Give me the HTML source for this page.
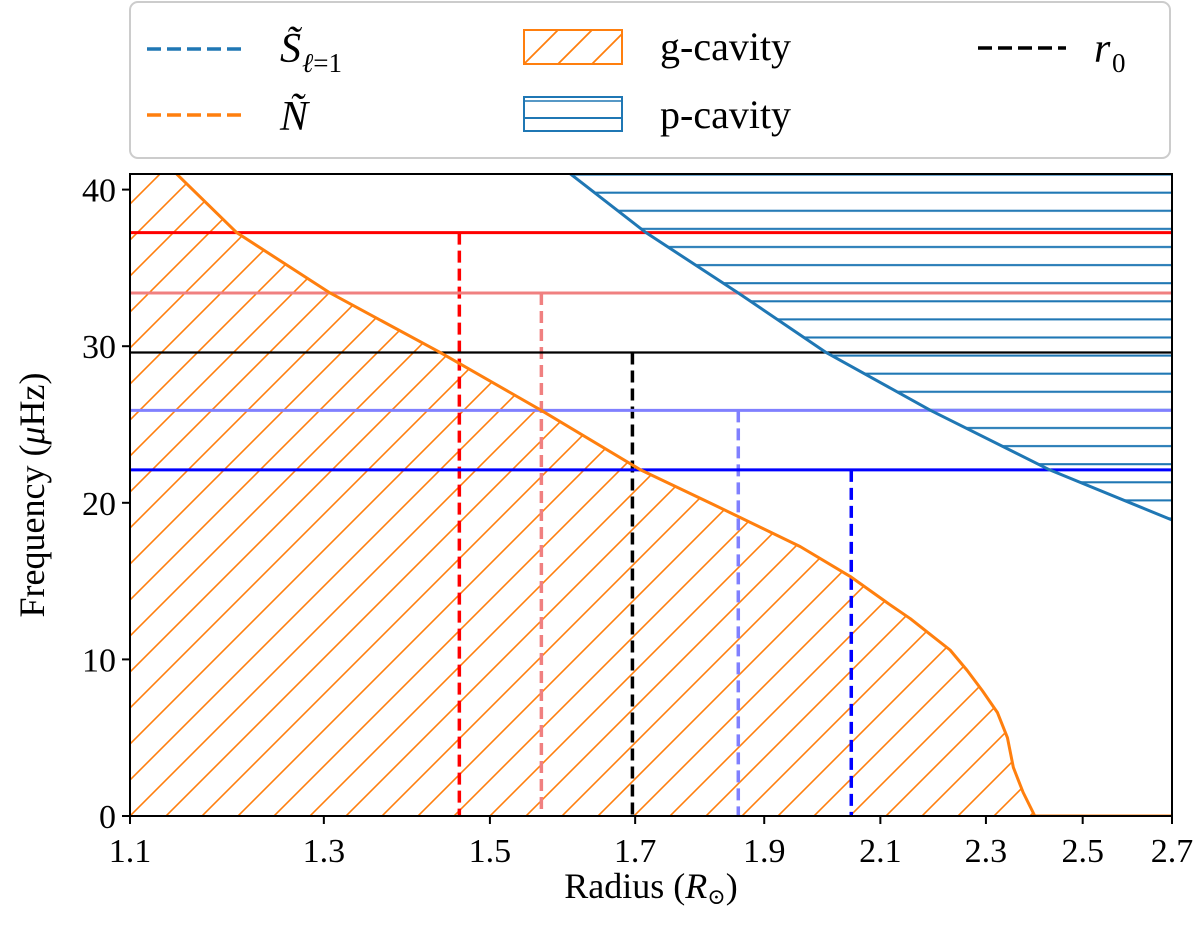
<!DOCTYPE html>
<html><head><meta charset="utf-8">
<style>
html,body{margin:0;padding:0;background:#fff;}
svg text{font-family:"Liberation Serif","DejaVu Serif",serif;fill:#000;}
</style></head>
<body>
<svg id="chart" xmlns="http://www.w3.org/2000/svg" width="1200" height="940" viewBox="0 0 1200 940">
<defs>
  <clipPath id="plotclip"><rect x="130" y="174" width="1042" height="642"/></clipPath>
  <pattern id="ghatch" patternUnits="userSpaceOnUse" width="36" height="36" x="130" y="816">
    <path d="M-9,9 L9,-9 M0,36 L36,0 M27,45 L45,27" stroke="#ff7f0e" stroke-width="1.6"/>
  </pattern>
  <pattern id="phatch" patternUnits="userSpaceOnUse" width="40" height="18.1" x="0" y="183.7">
    <path d="M0,9 L40,9" stroke="#1f77b4" stroke-width="2"/>
  </pattern>
  <pattern id="ghatchL" patternUnits="userSpaceOnUse" width="34" height="34" x="524" y="64">
    <path d="M-8,8 L8,-8 M0,34 L34,0 M26,42 L42,26" stroke="#ff7f0e" stroke-width="1.8"/>
  </pattern>
</defs>

<!-- legend -->
<g>
  <rect x="130" y="2" width="1040" height="156" rx="8" fill="#fff" stroke="#ccc" stroke-width="2"/>
  <g>
    <line x1="147" y1="49" x2="245" y2="49" stroke="#1f77b4" stroke-width="3.5" stroke-dasharray="14,6"/>
    <text x="280" y="62" font-size="42" font-style="italic">S̃</text>
    <text x="302" y="72" font-size="27"><tspan font-style="italic">ℓ</tspan>=1</text>
  </g>
  <g>
    <line x1="147" y1="115" x2="245" y2="115" stroke="#ff7f0e" stroke-width="3.5" stroke-dasharray="14,6"/>
    <text x="280" y="130" font-size="42" font-style="italic">Ñ</text>
  </g>
  <g>
    <rect x="524" y="30" width="98" height="34" fill="url(#ghatchL)" stroke="#ff7f0e" stroke-width="2"/>
    <text x="660" y="60" font-size="40">g-cavity</text>
  </g>
  <g>
    <rect x="524" y="97" width="98" height="34" fill="#fff" stroke="#1f77b4" stroke-width="2"/>
    <line x1="524" y1="101" x2="622" y2="101" stroke="#1f77b4" stroke-width="1.5"/>
    <line x1="524" y1="118" x2="622" y2="118" stroke="#1f77b4" stroke-width="2"/>
    <text x="660" y="128" font-size="40">p-cavity</text>
  </g>
  <g>
    <line x1="978" y1="48" x2="1066" y2="48" stroke="#000" stroke-width="3.5" stroke-dasharray="14,6"/>
    <text x="1094" y="62" font-size="42" font-style="italic">r</text>
    <text x="1112" y="72" font-size="27">0</text>
  </g>
</g>

<g id="plot" clip-path="url(#plotclip)"></g>
<g id="axes"></g>

<text x="651" y="898" font-size="36" text-anchor="middle">Radius (<tspan font-style="italic">R</tspan><tspan font-size="22" dy="6">⊙</tspan><tspan dy="-6">)</tspan></text>
<text transform="translate(44,495) rotate(-90)" font-size="36" text-anchor="middle">Frequency (<tspan font-style="italic">μ</tspan>Hz)</text>
</svg>

<script>
const NS = "http://www.w3.org/2000/svg";
const nRadius = [1.10, 1.1435, 1.206, 1.307, 1.437, 1.568, 1.708, 1.818, 1.960, 2.046, 2.113, 2.155, 2.192, 2.230, 2.263, 2.293, 2.323, 2.343, 2.355, 2.375, 2.399, 2.7];
const nFreq   = [44.5, 41.1, 37.25, 33.4, 29.6, 25.9, 22.1, 19.9, 17.2, 15.3, 13.6, 12.6, 11.6, 10.6, 9.3, 8.0, 6.6, 5.0, 3.1, 1.5, 0.0, 0.0];
const sRadius = [1.605, 1.716, 1.858, 2.004, 2.193, 2.43, 2.7];
const sFreq   = [41.1, 37.25, 33.4, 29.6, 25.9, 22.1, 18.9];
const modeFreq   = [37.25, 33.4, 29.6, 25.9, 22.1];
const modeRadius = [1.461, 1.568, 1.696, 1.858, 2.048];
const modeColors = ["#ff0000", "#f08080", "#000000", "#8080ff", "#0000ff"];
const modeNames  = ["mode-red", "mode-pink", "r0-black", "mode-lightblue", "mode-blue"];
const xTicks = [1.1, 1.3, 1.5, 1.7, 1.9, 2.1, 2.3, 2.5, 2.7];
const xTickLabels = ["1.1", "1.3", "1.5", "1.7", "1.9", "2.1", "2.3", "2.5", "2.7"];
const yTicks = [0, 10, 20, 30, 40];
const yTickLabels = ["0", "10", "20", "30", "40"];

const X0 = 130, X1 = 1172, Y0 = 816, YT = 174;
const xs = r => X0 + (X1 - X0) * Math.log(r / 1.1) / Math.log(2.7 / 1.1);
const ys = f => Y0 - f * 15.66;

const plot = document.getElementById('plot');
const axes = document.getElementById('axes');
function mk(tag, attrs, parent) {
  const e = document.createElementNS(NS, tag);
  for (const k in attrs) e.setAttribute(k, attrs[k]);
  parent.appendChild(e);
  return e;
}

// g-cavity
let gd = `M${xs(nRadius[0])},${Y0}`;
nRadius.forEach((r, i) => gd += ` L${xs(r)},${ys(nFreq[i])}`);
gd += ` L${X1},${Y0} Z`;
const g = mk('path', {d: gd, fill: 'url(#ghatch)', stroke: 'none'}, plot);



// p-cavity
let pd = `M${xs(sRadius[0])},${YT - 20}`;
sRadius.forEach((r, i) => pd += ` L${xs(r)},${ys(sFreq[i])}`);
pd += ` L${X1 + 5},${ys(sFreq[sFreq.length - 1])} L${X1 + 5},${YT - 20} Z`;
const p = mk('path', {d: pd, fill: 'url(#phatch)', stroke: 'none'}, plot);



// mode lines
modeFreq.forEach((f, i) => {
  const h = mk('line', {x1: X0, x2: X1, y1: ys(f), y2: ys(f), stroke: modeColors[i], 'stroke-width': i === 2 ? 2.2 : 3}, plot);
  
  
  const v = mk('line', {x1: xs(modeRadius[i]), x2: xs(modeRadius[i]), y1: ys(f), y2: Y0, stroke: modeColors[i], 'stroke-width': 3.5, 'stroke-dasharray': '12,6'}, plot);
  
  
});

// N curve
const nl = mk('polyline', {points: nRadius.map((r, i) => `${xs(r)},${ys(nFreq[i])}`).join(' '), fill: 'none', stroke: '#ff7f0e', 'stroke-width': 3, 'stroke-linejoin': 'round'}, plot);


// S curve
const sl = mk('polyline', {points: sRadius.map((r, i) => `${xs(r)},${ys(sFreq[i])}`).join(' '), fill: 'none', stroke: '#1f77b4', 'stroke-width': 3, 'stroke-linejoin': 'round'}, plot);



// frame
const fr = mk('rect', {x: X0, y: YT, width: X1 - X0, height: Y0 - YT, fill: 'none', stroke: '#000', 'stroke-width': 2}, axes);



xTicks.forEach((t, i) => {
  const x = xs(t);
  const tk = mk('line', {x1: x, x2: x, y1: Y0, y2: Y0 + 8, stroke: '#000', 'stroke-width': 2}, axes);
  
  
  const tx = mk('text', {x: x, y: Y0 + 46, 'font-size': 34, 'text-anchor': 'middle'}, axes);
  tx.textContent = xTickLabels[i];
  
  
});
yTicks.forEach((t, i) => {
  const y = ys(t);
  const tk = mk('line', {x1: X0 - 8, x2: X0, y1: y, y2: y, stroke: '#000', 'stroke-width': 2}, axes);
  
  
  const tx = mk('text', {x: X0 - 14, y: y + 12, 'font-size': 34, 'text-anchor': 'end'}, axes);
  tx.textContent = yTickLabels[i];
  
  
});
</script>
</body></html>
